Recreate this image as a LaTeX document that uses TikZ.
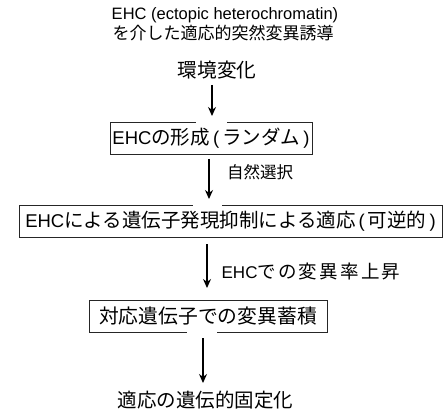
\documentclass[tikz,border=0pt]{standalone}
\usepackage{fontspec}
\setmainfont{Liberation Sans}
\newfontfamily\cjk{Noto Sans CJK JP}
\newfontfamily\cjkwide[LetterSpace=12]{Noto Sans CJK JP}
\usetikzlibrary{arrows.meta}
\begin{document}
\begin{tikzpicture}[x=1pt,y=-1pt,
  boxnode/.style={draw=black!85, line width=0.9pt, minimum height=32pt, inner sep=0pt},
  arr/.style={-{Stealth[length=9pt,width=8pt]}, line width=1.3pt},
  gapline/.style={white, line width=2.4pt},
  plain/.style={inner sep=0pt}]
\useasboundingbox (0,0) rectangle (447,414);
\node[plain] (t1) at (225,15) {\fontsize{16.5}{18}\selectfont EHC (ectopic heterochromatin)};
\node[plain] (t2) at (223,33) {\fontsize{17}{18}\selectfont\cjk を介した適応的突然変異誘導};
\node[plain] (env) at (217,70) {\fontsize{19.7}{20}\selectfont\cjk 環境変化};
\node[boxnode, minimum width=202pt] (b1) at (211,138) {\fontsize{18.5}{20}\selectfont EHC{\cjk\fontsize{19.5}{20}\selectfont の形成}\,(\,{\cjk\fontsize{19.5}{20}\selectfont ランダム}\,)};
\node[boxnode, minimum width=423pt] (b2) at (230.5,221) {\fontsize{18.5}{20}\selectfont EHC{\cjk\fontsize{19.5}{20}\selectfont による遺伝子発現抑制による適応}\,(\,{\cjk\fontsize{19.5}{20}\selectfont 可逆的}\,)};
\node[boxnode, minimum width=238pt] (b3) at (208,316) {\cjk\fontsize{19.8}{20}\selectfont 対応遺伝子での変異蓄積};
\node[plain] (fin) at (205.5,400) {\cjk\fontsize{19.5}{20}\selectfont 適応の遺伝的固定化};
\node[plain] (l2) at (260,172) {\cjk\fontsize{16.5}{18}\selectfont 自然選択};
\node[plain] (l3) at (311,271) {\fontsize{17}{18}\selectfont EHC{\cjkwide\fontsize{18.5}{20}\selectfont での変異率上昇}};
\draw[gapline] ([xshift=-15pt]b1.north) -- ([xshift=16pt]b1.north);
\draw[gapline] ([xshift=-37.5pt]b2.north) -- ([xshift=-8.5pt]b2.north);
\draw[gapline] ([xshift=-21pt]b3.south) -- ([xshift=9pt]b3.south);
\coordinate (a1s) at (212,85);  \coordinate (a1e) at (212,116);
\coordinate (a2s) at (209,159); \coordinate (a2e) at (209,199);
\coordinate (a3s) at (207,244); \coordinate (a3e) at (207,288);
\coordinate (a4s) at (203,338); \coordinate (a4e) at (203,383);
\draw[arr] (a1s) -- (a1e);
\draw[arr] (a2s) -- (a2e);
\draw[arr] (a3s) -- (a3e);
\draw[arr] (a4s) -- (a4e);
\end{tikzpicture}
\end{document}
